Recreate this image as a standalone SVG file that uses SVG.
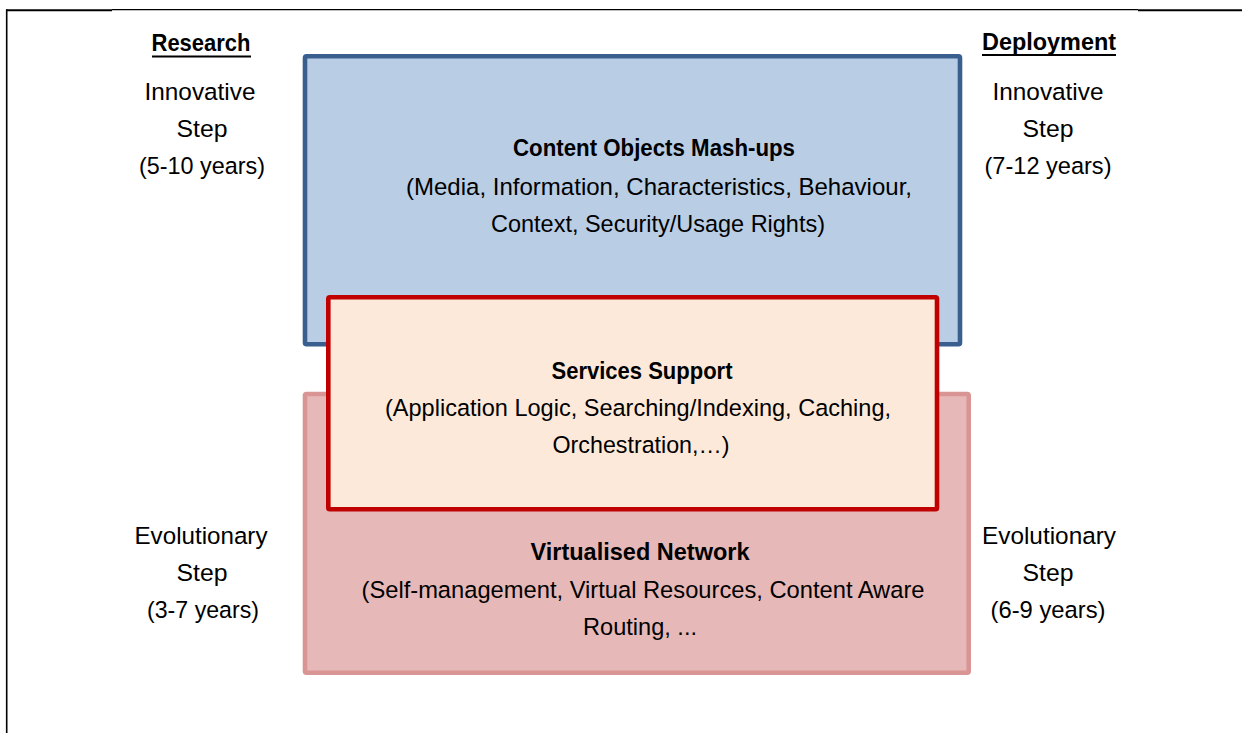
<svg xmlns="http://www.w3.org/2000/svg" width="1242" height="733" viewBox="0 0 1242 733">
  <style>
    .t { font-family: "Liberation Sans", Arial, sans-serif; font-size: 24.5px; fill: #000; text-anchor: middle; }
    .b { font-weight: bold; }
    .frame { stroke: #000; fill: none; }
  </style>
  <rect width="1242" height="733" fill="#fff"/>
  <g id="frame">
    <line class="frame" x1="6" y1="10.2" x2="112" y2="10.2" stroke-width="2"/>
    <line class="frame" x1="112" y1="9.7" x2="1138" y2="9.7" stroke-width="1.2"/>
    <line class="frame" x1="1138" y1="10.2" x2="1242" y2="10.2" stroke-width="2"/>
    <line class="frame" x1="6.7" y1="9.2" x2="6.7" y2="733" stroke-width="1.6"/>
  </g>
  <g id="content-objects">
    <rect x="305" y="56.3" width="655" height="288" rx="1.5" fill="#B9CDE5" stroke="#3A5F8E" stroke-width="4.6"/>
    <text class="t b" x="654" y="156" textLength="282" lengthAdjust="spacingAndGlyphs">Content Objects Mash-ups</text>
    <text class="t" x="659" y="195" textLength="506" lengthAdjust="spacingAndGlyphs">(Media, Information, Characteristics, Behaviour,</text>
    <text class="t" x="658" y="232" textLength="334" lengthAdjust="spacingAndGlyphs">Context, Security/Usage Rights)</text>
  </g>
  <g id="virtualised-network">
    <rect x="305" y="394" width="663.7" height="278.7" rx="1.5" fill="#E6B9B8" stroke="#D99594" stroke-width="4.6"/>
    <text class="t b" x="640" y="560" textLength="219" lengthAdjust="spacingAndGlyphs">Virtualised Network</text>
    <text class="t" x="643" y="598" textLength="563" lengthAdjust="spacingAndGlyphs">(Self-management, Virtual Resources, Content Aware</text>
    <text class="t" x="640" y="635" textLength="114" lengthAdjust="spacingAndGlyphs">Routing, ...</text>
  </g>
  <g id="services-support">
    <rect x="328.3" y="297.3" width="608.7" height="212" rx="1.5" fill="#FDE9D9" stroke="#C00000" stroke-width="4.6"/>
    <text class="t b" x="642" y="379" textLength="181" lengthAdjust="spacingAndGlyphs">Services Support</text>
    <text class="t" x="638" y="416" textLength="506" lengthAdjust="spacingAndGlyphs">(Application Logic, Searching/Indexing, Caching,</text>
    <text class="t" x="641" y="453" textLength="177" lengthAdjust="spacingAndGlyphs">Orchestration,…)</text>
  </g>
  <g id="research">
    <text class="t b" x="201" y="50.5" textLength="99" lengthAdjust="spacingAndGlyphs">Research</text>
    <line x1="152" y1="56.5" x2="251" y2="56.5" stroke="#000" stroke-width="2"/>
    <text class="t" x="200" y="99.5" textLength="111" lengthAdjust="spacingAndGlyphs">Innovative</text>
    <text class="t" x="202" y="136.5" textLength="51" lengthAdjust="spacingAndGlyphs">Step</text>
    <text class="t" x="202" y="173.5" textLength="126" lengthAdjust="spacingAndGlyphs">(5-10 years)</text>
    <text class="t" x="201" y="543.5" textLength="133" lengthAdjust="spacingAndGlyphs">Evolutionary</text>
    <text class="t" x="202" y="580.5" textLength="51" lengthAdjust="spacingAndGlyphs">Step</text>
    <text class="t" x="203" y="617.5" textLength="112" lengthAdjust="spacingAndGlyphs">(3-7 years)</text>
  </g>
  <g id="deployment">
    <text class="t b" x="1049" y="50" textLength="134" lengthAdjust="spacingAndGlyphs">Deployment</text>
    <line x1="982" y1="55" x2="1116" y2="55" stroke="#000" stroke-width="2"/>
    <text class="t" x="1048" y="99.5" textLength="111" lengthAdjust="spacingAndGlyphs">Innovative</text>
    <text class="t" x="1048" y="136.5" textLength="51" lengthAdjust="spacingAndGlyphs">Step</text>
    <text class="t" x="1048" y="173.5" textLength="127" lengthAdjust="spacingAndGlyphs">(7-12 years)</text>
    <text class="t" x="1049" y="543.5" textLength="134" lengthAdjust="spacingAndGlyphs">Evolutionary</text>
    <text class="t" x="1048" y="580.5" textLength="51" lengthAdjust="spacingAndGlyphs">Step</text>
    <text class="t" x="1048" y="617.5" textLength="115" lengthAdjust="spacingAndGlyphs">(6-9 years)</text>
  </g>
  <g id="connectors"></g>
</svg>
